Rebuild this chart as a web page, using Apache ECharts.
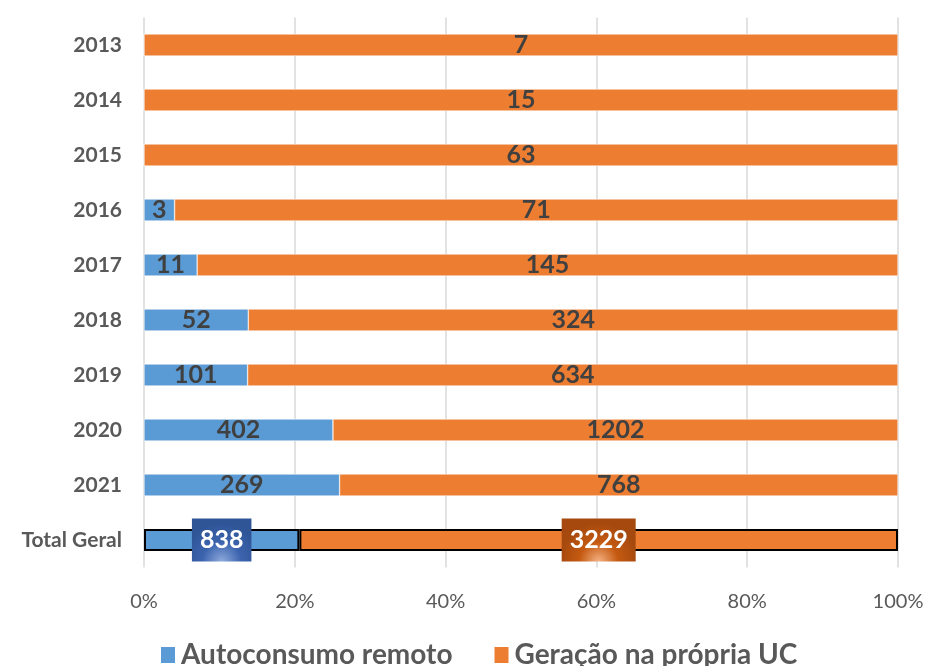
<!DOCTYPE html>
<html>
<head>
<meta charset="utf-8">
<script src="https://cdn.jsdelivr.net/npm/echarts@6/dist/echarts.min.js"></script>
<style>
  html, body { margin: 0; padding: 0; background: #fff; }
  #chart { width: 927px; height: 666px; }
</style>
</head>
<body>
<div id="chart"></div>
<script>
const categories = ['2013', '2014', '2015', '2016', '2017', '2018', '2019', '2020', '2021', 'Total Geral']
const remoto = [0, 0, 0, 3, 11, 52, 101, 402, 269, 838]
const propria = [7, 15, 63, 71, 145, 324, 634, 1202, 768, 3229]
const xTicks = [0, 20, 40, 60, 80, 100]

const FONT = 'Lato'
const BLUE = '#5B9BD5'
const ORANGE = '#ED7D31'

const chart = echarts.init(document.getElementById('chart'))

// percentuais por linha (gráfico 100% empilhado)
const pct = (arr) => arr.map((v, i) => v / (remoto[i] + propria[i]) * 100)

const totalIdx = categories.length - 1

const makeData = (arr, raw, isBlue) => arr.map((v, i) => {
  const item = { value: v, raw: raw[i] }
  if (i === totalIdx) {
    item.itemStyle = { borderColor: '#000', borderWidth: 2 }
    item.label = {
      color: '#fff',
      fontSize: 25,
      padding: [10, 8, 8, 8],
      backgroundColor: isBlue
        ? new echarts.graphic.RadialGradient(0.5, 1, 0.9, [
            { offset: 0, color: '#8FAADC' },
            { offset: 0.5, color: '#3C64AE' },
            { offset: 1, color: '#2F5597' }
          ])
        : new echarts.graphic.RadialGradient(0.5, 1, 0.9, [
            { offset: 0, color: '#F4B183' },
            { offset: 0.5, color: '#C55A11' },
            { offset: 1, color: '#A5490E' }
          ])
    }
  }
  return item
})

const labelCfg = {
  show: true,
  position: 'inside',
  fontFamily: FONT,
  fontWeight: 'bold',
  fontSize: 25,
  color: '#404040',
  formatter: (p) => p.data.raw > 0 ? String(p.data.raw) : ''
}

chart.setOption({
  animation: false,
  textStyle: { fontFamily: FONT },
  grid: { left: 144, right: 29, top: 17.5, bottom: 98.5 },
  legend: {
    top: 636,
    left: 154,
    itemWidth: 16,
    itemHeight: 18,
    itemGap: 40,
    icon: 'rect',
    textStyle: { fontFamily: FONT, fontWeight: 'bold', fontSize: 28, color: '#595959' },
    data: ['Autoconsumo remoto', 'Geração na própria UC']
  },
  xAxis: {
    type: 'value',
    min: xTicks[0],
    max: xTicks[xTicks.length - 1],
    interval: 20,
    axisLine: { show: false },
    axisTick: { show: false },
    splitLine: { lineStyle: { color: '#D9D9D9', width: 1.5 } },
    axisLabel: { formatter: '{value}%', color: '#595959', fontSize: 20, margin: 24, fontFamily: FONT }
  },
  yAxis: {
    type: 'category',
    inverse: true,
    data: categories,
    axisLine: { show: false },
    axisTick: { show: false },
    axisLabel: { color: '#595959', fontSize: 21, fontWeight: 'bold', margin: 22, fontFamily: FONT }
  },
  series: [
    {
      name: 'Autoconsumo remoto',
      type: 'bar',
      stack: 'total',
      barWidth: 22,
      itemStyle: { color: BLUE, borderColor: '#fff', borderWidth: 0.5 },
      label: labelCfg,
      data: makeData(pct(remoto), remoto, true)
    },
    {
      name: 'Geração na própria UC',
      type: 'bar',
      stack: 'total',
      barWidth: 22,
      itemStyle: { color: ORANGE, borderColor: '#fff', borderWidth: 0.5 },
      label: labelCfg,
      data: makeData(pct(propria), propria, false)
    }
  ]
})
</script>
</body>
</html>
